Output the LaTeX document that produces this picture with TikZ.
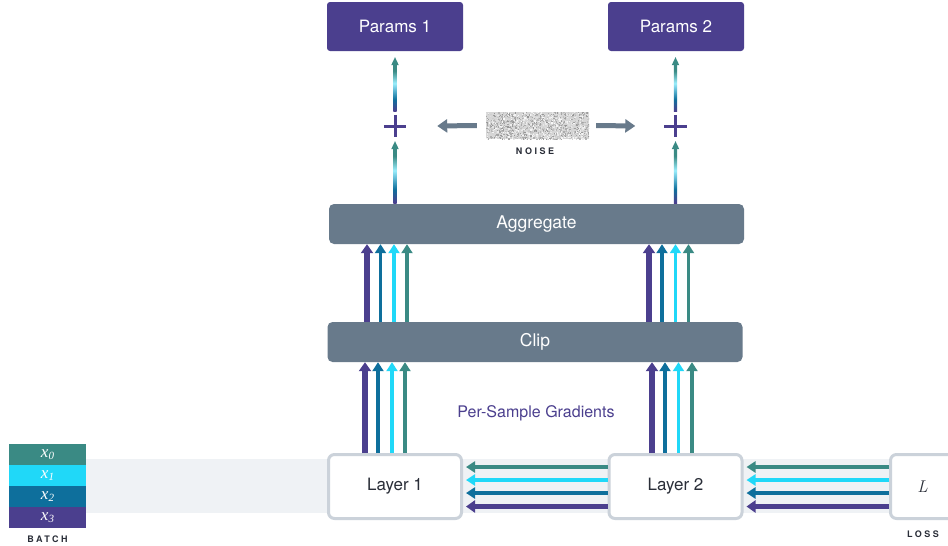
\documentclass[tikz,border=0pt]{standalone}
\usepackage[no-math]{fontspec}
\setmainfont{TeX Gyre Heros}
\newfontfamily\sx{Liberation Serif}
\newfontfamily\lmr{Latin Modern Roman}
\usetikzlibrary{arrows.meta,calc}
\definecolor{cpurple}{HTML}{4B3F8E}
\definecolor{cblue}{HTML}{0E6F9C}
\definecolor{ccyan}{HTML}{20D8F8}
\definecolor{cteal}{HTML}{3A8A84}
\definecolor{cslate}{HTML}{687A8B}
\definecolor{cborder}{HTML}{CBD2DA}
\definecolor{cband}{HTML}{EFF2F5}
\definecolor{ctext}{HTML}{2A2E38}
\pgfdeclareverticalshading{gradarrow}{100bp}{color(0bp)=(cpurple); color(26bp)=(cpurple); color(38bp)=(cblue); color(55bp)=(ccyan!45!white); color(68bp)=(cteal); color(100bp)=(cteal)}
\tikzset{
  param/.style={fill=cpurple, rounded corners=3pt, minimum width=136pt, minimum height=49pt, inner sep=0pt, text=white, font=\fontsize{17}{20}\selectfont},
  bar/.style={fill=cslate, rounded corners=5pt, minimum width=415pt, minimum height=40pt, inner sep=0pt, text=white, font=\fontsize{17.5}{20}\selectfont},
  layerbox/.style={draw=cborder, line width=3pt, fill=white, rounded corners=6pt, minimum width=133pt, minimum height=64pt, inner sep=0pt, text=ctext, font=\fontsize{17}{20}\selectfont},
  cell/.style={minimum width=77pt, minimum height=21pt, inner sep=0pt, text=white, font=\sx\itshape\fontsize{17}{17}\selectfont},
  tag/.style={text=ctext, font=\fontsize{9}{10}\selectfont\bfseries\addfontfeature{LetterSpace=28}},
  thinarr/.style={line width=3.2pt, -{Triangle[width=11pt,length=9pt]}},
  thickarr/.style={line width=5.5pt, -{Triangle[width=12pt,length=9pt]}},
  noisearr/.style={draw=cslate, line width=5pt, -{Triangle[width=13pt,length=10pt]}},
  plusmark/.style={minimum size=22pt, inner sep=0pt},
}
\newcommand{\batchx}[1]{x\raisebox{-2pt}{\fontsize{11}{11}\selectfont #1}}
\begin{document}
\begin{tikzpicture}[x=1pt,y=-1pt]
\useasboundingbox (0,0) rectangle (948,546);
% band
\fill[cband] (86,459) rectangle (948,513);
% batch
\node[cell, fill=cteal]   (x0) at (47.5,454.5) {\batchx{0}};
\node[cell, fill=ccyan]   (x1) at (47.5,475.5) {\batchx{1}};
\node[cell, fill=cblue]   (x2) at (47.5,496.5) {\batchx{2}};
\node[cell, fill=cpurple] (x3) at (47.5,517.5) {\batchx{3}};
\node[tag] (batchlbl) at (47.5,539) {BATCH};
% params
\node[param] (par1) at (395,26.5) {Params 1};
\node[param] (par2) at (676,26.5) {Params 2};
% bars
\node[bar] (agg) at (536.5,224) {Aggregate};
\node[bar] (clip) at (535,342) {Clip};
% layers
\node[layerbox] (l1) at (395,486.5) {Layer 1};
\node[layerbox] (l2) at (675.5,486.5) {Layer 2};
\node[layerbox, minimum width=64pt] (loss) at (922.5,486.5) {\lmr\itshape\fontsize{17}{17}\selectfont L};
\node[tag] (losslbl) at (923,534) {LOSS};
% label
\node[text=cpurple, font=\fontsize{16}{19}\selectfont] (psg) at (536,413) {Per-Sample Gradients};
% plus
\node[plusmark] (p1) at (395,126) {};
\node[plusmark] (p2) at (675.5,126) {};
\foreach \p in {p1,p2}{
  \draw[cpurple, line width=3pt] (\p.west) -- (\p.east) (\p.north) -- (\p.south);
}
% noise
\node[minimum width=103pt, minimum height=27pt, inner sep=0pt, fill=black!16] (noise) at (537.5,125.5) {};
\begin{scope}
\clip (noise.south west) rectangle (noise.north east);
\pgfmathsetseed{7}
\foreach \i in {1,...,1500}{
  \pgfmathsetmacro\xx{486+103*rnd}
  \pgfmathsetmacro\yy{112+27*rnd}
  \pgfmathsetmacro\gg{2+40*rnd}
  \fill[black!\gg] (\xx,\yy) rectangle ++(1.3,1.3);
}
\end{scope}
\node[tag] (noiselbl) at (535,151) {NOISE};
\draw[noisearr] ([xshift=-9pt]noise.west) -- ([xshift=31pt]p1.east);
\draw[noisearr] ([xshift=7pt]noise.east) -- ([xshift=-29pt]p2.west);
% gradient connectors
\foreach \p/\q in {p1/par1,p2/par2}{
  \shade[shading=gradarrow] ($(\p |- agg.north)+(-1.6,0)$) rectangle ($(\p.south)+(1.6,11)$);
  \fill[cteal] ($(\p.south)+(-3.8,12)$) -- ($(\p.south)+(3.8,12)$) -- ($(\p.south)+(0,4)$) -- cycle;
  \shade[shading=gradarrow] ($(\p.north)+(-1.6,-3)$) rectangle ($(\p |- \q.south)+(1.6,13)$);
  \fill[cteal] ($(\p |- \q.south)+(-3.8,14)$) -- ($(\p |- \q.south)+(3.8,14)$) -- ($(\p |- \q.south)+(0,6)$) -- cycle;
}
% layer -> clip
\draw[thickarr, cpurple] ([xshift=-30pt]l1.north) -- ([xshift=-30pt]l1.north |- clip.south);
\draw[thinarr, cblue]    ([xshift=-17pt]l1.north) -- ([xshift=-17pt]l1.north |- clip.south);
\draw[thinarr, ccyan]    ([xshift=-3pt]l1.north)  -- ([xshift=-3pt]l1.north |- clip.south);
\draw[thinarr, cteal]    ([xshift=10pt]l1.north)  -- ([xshift=10pt]l1.north |- clip.south);
\draw[thickarr, cpurple] ([xshift=-23.5pt]l2.north) -- ([xshift=-23.5pt]l2.north |- clip.south);
\draw[thinarr, cblue]    ([xshift=-10.5pt]l2.north) -- ([xshift=-10.5pt]l2.north |- clip.south);
\draw[thinarr, ccyan]    ([xshift=3pt]l2.north)   -- ([xshift=3pt]l2.north |- clip.south);
\draw[thinarr, cteal]    ([xshift=16.5pt]l2.north) -- ([xshift=16.5pt]l2.north |- clip.south);
% clip -> aggregate
\draw[thickarr, cpurple] ([xshift=-28pt]l1.north |- clip.north) -- ([xshift=-28pt]l1.north |- agg.south);
\draw[thinarr, cblue]    ([xshift=-14.5pt]l1.north |- clip.north) -- ([xshift=-14.5pt]l1.north |- agg.south);
\draw[thinarr, ccyan]    ([xshift=-1pt]l1.north |- clip.north) -- ([xshift=-1pt]l1.north |- agg.south);
\draw[thinarr, cteal]    ([xshift=12pt]l1.north |- clip.north) -- ([xshift=12pt]l1.north |- agg.south);
\draw[thickarr, cpurple] ([xshift=-26.5pt]l2.north |- clip.north) -- ([xshift=-26.5pt]l2.north |- agg.south);
\draw[thinarr, cblue]    ([xshift=-13.5pt]l2.north |- clip.north) -- ([xshift=-13.5pt]l2.north |- agg.south);
\draw[thinarr, ccyan]    ([xshift=0pt]l2.north |- clip.north) -- ([xshift=0pt]l2.north |- agg.south);
\draw[thinarr, cteal]    ([xshift=13pt]l2.north |- clip.north) -- ([xshift=13pt]l2.north |- agg.south);
% horizontal backward arrows
\foreach \a/\b in {l2/l1,loss/l2}{
  \draw[thinarr, cteal]    ([yshift=19.5pt]\a.west) -- ([yshift=19.5pt,xshift=3pt]\b.east);
  \draw[thinarr, ccyan]    ([yshift=6.5pt]\a.west)  -- ([yshift=6.5pt,xshift=3pt]\b.east);
  \draw[thinarr, cblue]    ([yshift=-6.5pt]\a.west) -- ([yshift=-6.5pt,xshift=3pt]\b.east);
  \draw[thickarr, cpurple] ([yshift=-20pt]\a.west)  -- ([yshift=-20pt,xshift=3pt]\b.east);
}
\end{tikzpicture}
\end{document}
